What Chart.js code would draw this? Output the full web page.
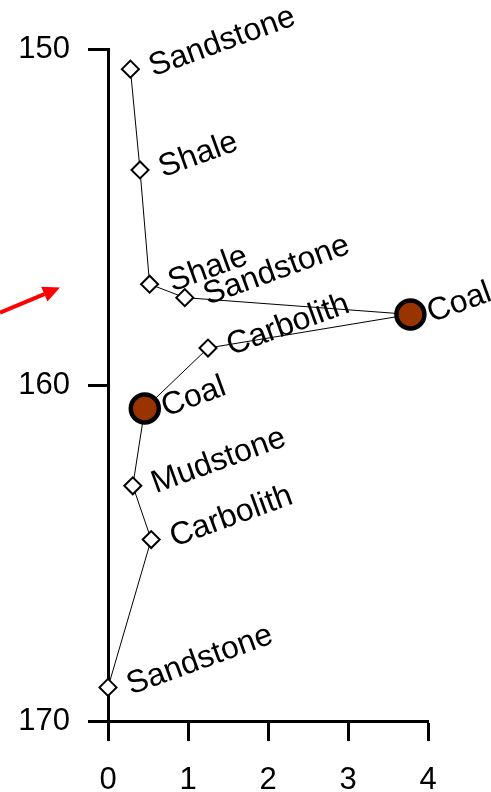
<!DOCTYPE html>
<html>
<head>
<meta charset="utf-8">
<script src="https://cdn.jsdelivr.net/npm/chart.js@4/dist/chart.umd.min.js"></script>
<style>
  html, body { margin: 0; padding: 0; background: #fff; }
  #wrap { width: 491px; height: 792px; }
</style>
</head>
<body>
<div id="wrap"><canvas id="chart-01"></canvas></div>
<script>
// Lithology log
const lithology = ['Sandstone', 'Shale', 'Shale', 'Sandstone', 'Coal', 'Carbolith', 'Coal', 'Mudstone', 'Carbolith', 'Sandstone'];
const xValues = [0.28, 0.40, 0.52, 0.96, 3.78, 1.25, 0.46, 0.31, 0.54, 0.00];
const depths = [150.6, 153.6, 157.0, 157.4, 157.9, 158.9, 160.7, 163.0, 164.6, 169.0];
const xTicks = [0, 1, 2, 3, 4];
const yTicks = [150, 160, 170];
// arrow annotation, in data units (start, end)
const arrowFrom = { x: -1.35, y: 157.85 };
const arrowTo = { x: -0.6, y: 157.1 };

const points = xValues.map((x, i) => ({ x: x, y: depths[i] }));
const isCoal = lithology.map(l => l === 'Coal');

const labelPlugin = {
    id: 'litholabels',
    afterDatasetsDraw(chart) {
        const c = chart.ctx;
        const meta = chart.getDatasetMeta(0);
        c.save();
        c.font = '32px "Liberation Sans", Arial, sans-serif';
        c.fillStyle = '#000';
        c.textAlign = 'left';
        c.textBaseline = 'middle';
        meta.data.forEach((el, i) => {
            c.save();
            c.translate(el.x, el.y);
            c.rotate(-20 * Math.PI / 180);
            c.fillText(lithology[i], isCoal[i] ? 17 : 19, 6);
            c.restore();
        });

        // red arrow
        const sx = chart.scales.x, sy = chart.scales.y;
        const x0 = sx.getPixelForValue(arrowFrom.x), y0 = sy.getPixelForValue(arrowFrom.y);
        const x1 = sx.getPixelForValue(arrowTo.x), y1 = sy.getPixelForValue(arrowTo.y);
        const ang = Math.atan2(y1 - y0, x1 - x0);
        const head = 17, hw = 8;
        c.strokeStyle = '#ff0000';
        c.fillStyle = '#ff0000';
        c.lineWidth = 4;
        c.beginPath();
        c.moveTo(x0, y0);
        c.lineTo(x1 - head * Math.cos(ang), y1 - head * Math.sin(ang));
        c.stroke();
        c.beginPath();
        c.moveTo(x1, y1);
        c.lineTo(x1 - head * Math.cos(ang) + hw * Math.sin(ang), y1 - head * Math.sin(ang) - hw * Math.cos(ang));
        c.lineTo(x1 - head * Math.cos(ang) - hw * Math.sin(ang), y1 - head * Math.sin(ang) + hw * Math.cos(ang));
        c.closePath();
        c.fill();
        c.restore();
    }
};

const ctx = document.getElementById('chart-01').getContext('2d');

const chart_01 = new Chart(ctx, {
    type: 'scatter',
    data: {
        datasets: [{
            data: points,
            showLine: true,
            clip: false,
            borderColor: '#000',
            borderWidth: 1,
            tension: 0,
            pointStyle: isCoal.map(c => c ? 'circle' : 'rectRot'),
            pointRadius: isCoal.map(c => c ? 14 : 8.5),
            pointBackgroundColor: isCoal.map(c => c ? '#993300' : '#fff'),
            pointBorderColor: '#000',
            pointBorderWidth: isCoal.map(c => c ? 4.5 : 2),
        }]
    },
    options: {
        responsive: true,
        maintainAspectRatio: false,
        animation: false,
        layout: {
            padding: { left: 0, top: 49, right: 63, bottom: 0 }
        },
        plugins: {
            legend: { display: false },
            tooltip: { enabled: false }
        },
        scales: {
            x: {
                type: 'linear',
                min: 0,
                max: 4,
                afterFit(scale) { scale.height = 71; },
                afterBuildTicks(scale) { scale.ticks = xTicks.map(v => ({ value: v })); },
                grid: {
                    drawOnChartArea: false,
                    drawTicks: true,
                    tickLength: 20,
                    tickWidth: 3,
                    tickColor: '#000'
                },
                border: { color: '#000', width: 3 },
                ticks: {
                    color: '#000',
                    padding: 21,
                    font: { family: '"Liberation Sans", Arial, sans-serif', size: 31 }
                }
            },
            y: {
                type: 'linear',
                reverse: true,
                min: 150,
                max: 170,
                afterFit(scale) { scale.width = 108; },
                afterBuildTicks(scale) { scale.ticks = yTicks.map(v => ({ value: v })); },
                grid: {
                    drawOnChartArea: false,
                    drawTicks: true,
                    tickLength: 20,
                    tickWidth: 3,
                    tickColor: '#000'
                },
                border: { color: '#000', width: 3 },
                ticks: {
                    color: '#000',
                    padding: 18,
                    font: { family: '"Liberation Sans", Arial, sans-serif', size: 31 }
                }
            }
        }
    },
    plugins: [labelPlugin]
});
</script>
</body>
</html>
